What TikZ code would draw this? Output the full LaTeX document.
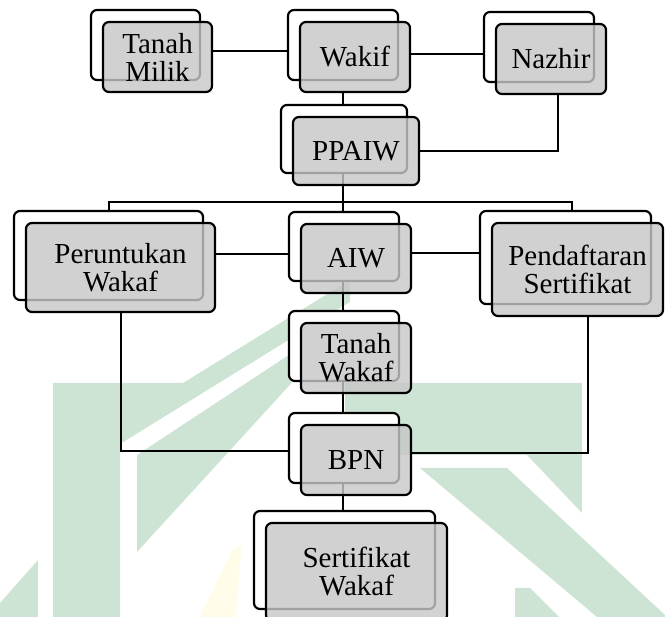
\documentclass[tikz,border=0pt]{standalone}
\usepackage{fontspec}
\setmainfont{Liberation Serif}
\usepackage{tikz}
\usetikzlibrary{shadows}
\definecolor{boxgray}{RGB}{199,199,199}
\definecolor{markgreen}{RGB}{205,228,213}
\definecolor{markyellow}{RGB}{255,252,234}
\pgfdeclarelayer{mark}
\pgfdeclarelayer{wire}
\pgfsetlayers{mark,wire,main}
\tikzset{
	card/.style={draw, line width=2.2pt, rounded corners=6pt, fill=boxgray, fill opacity=0.81, text opacity=1,
		align=center, inner sep=0pt, font=\fontsize{29}{28}\selectfont,
		general shadow={shadow xshift=-12pt, shadow yshift=12pt, fill=white, fill opacity=1, draw=black, line width=2.2pt}},
	link/.style={line width=2pt}
}

\begin{document}
\begin{tikzpicture}[x=1pt,y=-1pt]
	\useasboundingbox (0,0) rectangle (665,617);
	
	% watermark
	\begin{pgfonlayer}{mark}
		\fill[markgreen] (53,617) -- (53,383) -- (183,383) -- (350,280) -- (350,302) -- (120,444) -- (120,617) -- cycle;
		\fill[markgreen] (137,455) -- (345,318) -- (340,330) -- (137,552) -- cycle;
		\fill[markgreen] (345,383) -- (582,383) -- (582,513) -- (527,455) -- (345,455) -- cycle;
		\fill[markgreen] (420,468) -- (507,468) -- (665,615) -- (665,617) -- (597,617) -- cycle;
		\fill[markgreen] (515,588) -- (530,588) -- (559,617) -- (515,617) -- cycle;
		\fill[markgreen] (0,603) -- (38,560) -- (38,617) -- (0,617) -- cycle;
		\fill[markyellow] (200,617) -- (232,550) -- (242,545) -- (236,617) -- cycle;
	\end{pgfonlayer}
	
	\node[card, minimum width=109pt, minimum height=70pt] (tm) at (157.5,57) {Tanah\\Milik};
	\node[card, minimum width=110pt, minimum height=70pt] (wk) at (355,57) {Wakif};
	\node[card, minimum width=110pt, minimum height=70pt] (nz) at (551,59) {Nazhir};
	\node[card, minimum width=126pt, minimum height=68pt] (pp) at (356,151) {PPAIW};
	\node[card, minimum width=189pt, minimum height=89pt] (pw) at (120.5,267.5) {Peruntukan\\Wakaf};
	\node[card, minimum width=110pt, minimum height=69pt] (aiw) at (356,258.5) {AIW};
	\node[card, minimum width=171pt, minimum height=93pt] (ps) at (577.5,269.5) {Pendaftaran\\Sertifikat};
	\node[card, minimum width=110pt, minimum height=70pt] (tw) at (356,358) {Tanah\\Wakaf};
	\node[card, minimum width=110pt, minimum height=70pt] (bpn) at (356,460) {BPN};
	\node[card, minimum width=181pt, minimum height=98pt] (sw) at (356.5,572) {Sertifikat\\Wakaf};
	
	\coordinate (fork) at ([xshift=-12pt,yshift=-16pt]pp.south);
	
	% connectors
	\begin{pgfonlayer}{wire}
		\draw[link] ([yshift=6pt]tm.east) -- ([yshift=6pt]wk.west);
		\draw[link] ([yshift=3pt]wk.east) -- ([yshift=5pt]nz.west);
		\draw[link] ([xshift=7pt]nz.south) |- (pp.east);
		\draw[link] ([xshift=-12pt]wk.south) -- ([xshift=-12pt]wk.south |- sw.north);
		\draw[link] ([xshift=-12pt]pw.north) |- (fork) -| ([xshift=-6pt]ps.north);
		\draw[link] ([yshift=13pt]pw.east) -- ([yshift=4pt]aiw.west);
		\draw[link] ([yshift=5pt]aiw.east) -- ([yshift=16pt]ps.west);
		\draw[link] (pw.south) |- ([yshift=9pt]bpn.west);
		\draw[link] ([xshift=10pt]ps.south) |- ([yshift=7pt]bpn.east);
	\end{pgfonlayer}
\end{tikzpicture}
\end{document}
